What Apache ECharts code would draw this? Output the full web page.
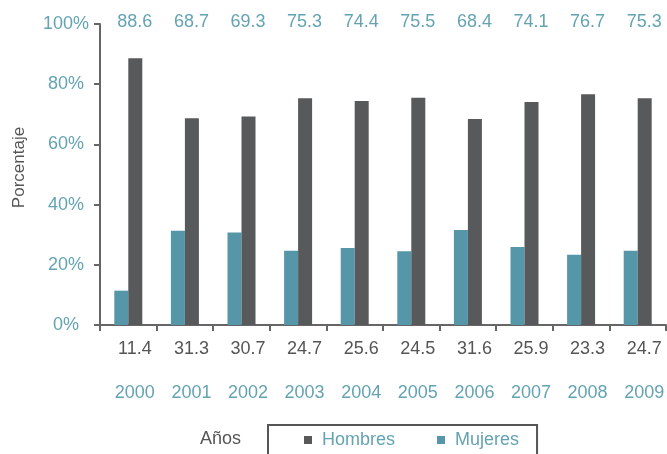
<!DOCTYPE html>
<html>
<head>
<meta charset="utf-8">
<script src="https://cdn.jsdelivr.net/npm/echarts@6/dist/echarts.min.js"></script>
<style>
  html, body { margin: 0; padding: 0; background: #fff; }
  #chart { width: 667px; height: 454px; }
</style>
</head>
<body>
<div id="chart"></div>
<script>
// Porcentaje de hombres y mujeres por año
const years = ['2000', '2001', '2002', '2003', '2004', '2005', '2006', '2007', '2008', '2009'];
const hombres = [88.6, 68.7, 69.3, 75.3, 74.4, 75.5, 68.4, 74.1, 76.7, 75.3];
const mujeres = [11.4, 31.3, 30.7, 24.7, 25.6, 24.5, 31.6, 25.9, 23.3, 24.7];
const yTicks = [0, 20, 40, 60, 80, 100];

const TEAL = '#5597a9';
const TEAL_TEXT = '#64a3b3';
const DARK = '#58595b';
const AXIS = '#666666';
const FONT = 'Liberation Sans, Arial, sans-serif';
const FS = 18;
// row labels sit slightly right of the category centre
const ROW_PAD = [0, 0, 0, 13];

const chart = echarts.init(document.getElementById('chart'), null, { renderer: 'canvas' });

chart.setOption({
  animation: false,
  textStyle: { fontFamily: FONT },
  grid: { left: 100, right: 1, top: 24, bottom: 129, containLabel: false, outerBoundsMode: 'none' },
  legend: {
    data: ['Hombres', 'Mujeres'],
    left: 268,
    top: 425,
    orient: 'horizontal',
    icon: 'rect',
    itemWidth: 8,
    itemHeight: 8,
    itemGap: 42,
    padding: [6, 18, 30, 36],
    borderColor: '#555',
    borderWidth: 2,
    textStyle: { color: TEAL_TEXT, fontSize: FS, fontFamily: FONT, padding: [0, 0, 0, 5] }
  },
  xAxis: [
    {
      // main category axis; labels show the Mujeres values
      type: 'category',
      data: years,
      position: 'bottom',
      axisLine: { lineStyle: { color: AXIS, width: 2 } },
      axisTick: { show: true, length: 6, lineStyle: { color: AXIS, width: 2 } },
      axisLabel: {
        formatter: (v, i) => mujeres[i].toFixed(1),
        color: '#555',
        fontSize: FS,
        fontFamily: FONT,
        verticalAlign: 'middle',
        padding: ROW_PAD,
        margin: 24
      }
    },
    {
      // year row
      type: 'category',
      data: years,
      position: 'bottom',
      offset: 44,
      axisLine: { show: false },
      axisTick: { show: false },
      axisLabel: { color: TEAL_TEXT, fontSize: FS, fontFamily: FONT, verticalAlign: 'middle', padding: ROW_PAD, margin: 24 }
    },
    {
      // Hombres values row above the plot
      type: 'category',
      data: hombres.map(v => v.toFixed(1)),
      position: 'top',
      axisLine: { show: false },
      axisTick: { show: false },
      axisLabel: { color: TEAL_TEXT, fontSize: FS, fontFamily: FONT, verticalAlign: 'middle', padding: ROW_PAD, margin: 2 }
    }
  ],
  yAxis: {
    type: 'value',
    min: yTicks[0],
    max: yTicks[yTicks.length - 1],
    interval: 20,
    name: 'Porcentaje',
    nameLocation: 'middle',
    nameRotate: 90,
    nameGap: 72,
    nameTextStyle: { color: '#555', fontSize: 17, fontFamily: FONT, padding: [0, 0, 0, 14] },
    axisLine: { show: true, lineStyle: { color: AXIS, width: 2 } },
    axisTick: { show: true, length: 6, lineStyle: { color: AXIS, width: 2 } },
    splitLine: { show: false },
    axisLabel: {
      formatter: v => v + '%',
      color: TEAL_TEXT,
      fontSize: FS,
      fontFamily: FONT,
      align: 'center',
      margin: 34
    }
  },
  series: [
    {
      name: 'Mujeres',
      type: 'bar',
      xAxisIndex: 0,
      data: mujeres,
      barWidth: 14,
      barGap: '0%',
      itemStyle: { color: TEAL }
    },
    {
      name: 'Hombres',
      type: 'bar',
      xAxisIndex: 0,
      data: hombres,
      barWidth: 14,
      barGap: '0%',
      itemStyle: { color: DARK }
    }
  ],
  graphic: [
    {
      type: 'text',
      left: 200,
      top: 430,
      style: { text: 'Años', fill: '#555', fontSize: FS, fontFamily: FONT }
    }
  ]
});
</script>
</body>
</html>
